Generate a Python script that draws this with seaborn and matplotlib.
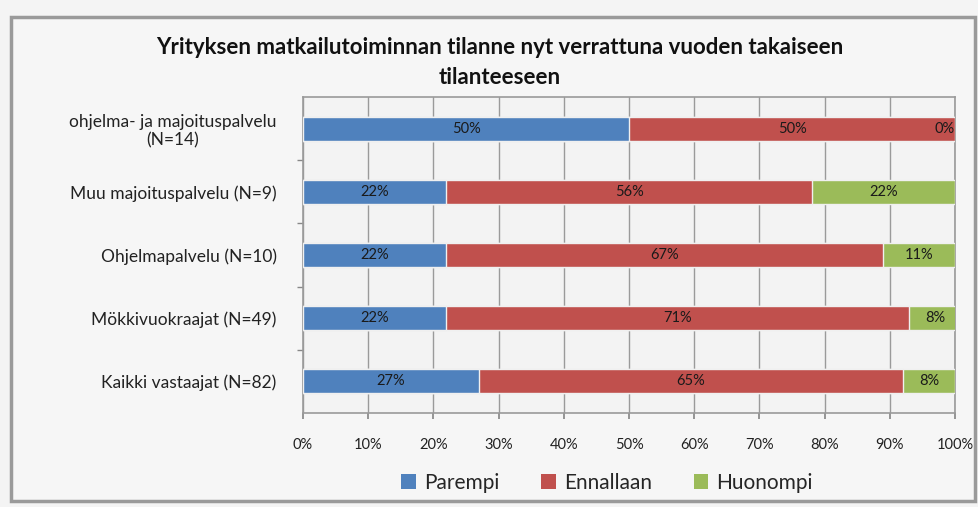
import matplotlib
matplotlib.use("Agg")
import matplotlib.pyplot as plt
from matplotlib.patches import Patch, Rectangle
import seaborn as sns
import pandas as pd
import numpy as np

categories = ["ohjelma- ja majoituspalvelu\n(N=14)", "Muu majoituspalvelu (N=9)",
              "Ohjelmapalvelu (N=10)", "Mökkivuokraajat (N=49)", "Kaikki vastaajat (N=82)"]
parempi = [50, 22, 22, 22, 27]
ennallaan = [50, 56, 67, 71, 65]
huonompi = [0, 22, 11, 8, 8]
series_names = ["Parempi", "Ennallaan", "Huonompi"]
colors = ["#4F81BD", "#C0504D", "#9BBB59"]
xticks = [0, 10, 20, 30, 40, 50, 60, 70, 80, 90, 100]
title = "Yrityksen matkailutoiminnan tilanne nyt verrattuna vuoden takaiseen\ntilanteeseen"

sns.set_theme(style="white")
plt.rcParams['font.family'] = ['Lato', 'DejaVu Sans']

df = pd.DataFrame({"cat": categories, "Parempi": parempi,
                   "Ennallaan": ennallaan, "Huonompi": huonompi})
df["c1"] = df["Parempi"]
df["c2"] = df["Parempi"] + df["Ennallaan"]
df["c3"] = df["c2"] + df["Huonompi"]

fig = plt.figure(figsize=(9.79, 5.07), dpi=100)
fig.patch.set_facecolor("#f4f4f4")
# outer chart frame
fig.patches.append(Rectangle((0.011, 0.012), 0.985, 0.955, transform=fig.transFigure,
                             facecolor="#f6f6f6", edgecolor="#9a9a9a", linewidth=2.5, zorder=-1))

ax = fig.add_axes([0.3095, 0.1854, 0.666, 0.6233])
ax.set_facecolor("#f3f3f3")

for col, c in zip(["c3", "c2", "c1"], colors[::-1]):
    sns.barplot(data=df, x=col, y="cat", orient="h", color=c, width=0.38,
                edgecolor="#f0f0f0", linewidth=1, ax=ax, zorder=3, saturation=1)

ax.set_xlim(0, 100)
ax.set_ylim(4.5, -0.5)
ax.set_xticks(xticks)
ax.set_xticklabels([f"{t}%" for t in xticks], fontsize=10.5, color="#222222")
ax.tick_params(axis="x", pad=14, length=4, color="#888888", bottom=True, direction="out")
ax.tick_params(axis="y", length=0, pad=19, labelsize=12.5, labelcolor="#222222")
ax.set_yticks(range(len(categories)))
ax.set_yticklabels(categories, ha="right", multialignment="center")
ax.set_yticks(np.arange(0.5, len(categories) - 0.5, 1), minor=True)
ax.tick_params(axis="y", which="minor", length=4, left=True, color="#888888")
ax.set_xlabel("")
ax.set_ylabel("")
ax.grid(axis="x", color="#9a9a9a", linewidth=1, zorder=0)
ax.set_axisbelow(True)
for s in ax.spines.values():
    s.set_color("#9a9a9a")
    s.set_linewidth(1.2)

for i in range(len(categories)):
    lefts = [0, df["c1"][i], df["c2"][i]]
    vals = [parempi[i], ennallaan[i], huonompi[i]]
    for l, v in zip(lefts, vals):
        if v == 0:
            ax.text(l + v, i, f"{v}%", ha="right", va="center", fontsize=10.5,
                    color="#1a1a1a", zorder=5)
        else:
            ax.text(l + v / 2, i, f"{v}%", ha="center", va="center", fontsize=10.5,
                    color="#1a1a1a", zorder=5)

fig.text(0.51, 0.877, title, ha="center", va="center", fontsize=16, fontweight="bold",
         color="#111111", linespacing=1.5)

handles = [Patch(facecolor=c, edgecolor="none") for c in colors]
fig.legend(handles, series_names, loc="center", bbox_to_anchor=(0.62, 0.048), ncol=3,
           frameon=False, fontsize=15, handlelength=0.7, handleheight=0.7,
           handletextpad=0.4, columnspacing=2.0)

fig.savefig("out.png", dpi=100, facecolor=fig.get_facecolor())
